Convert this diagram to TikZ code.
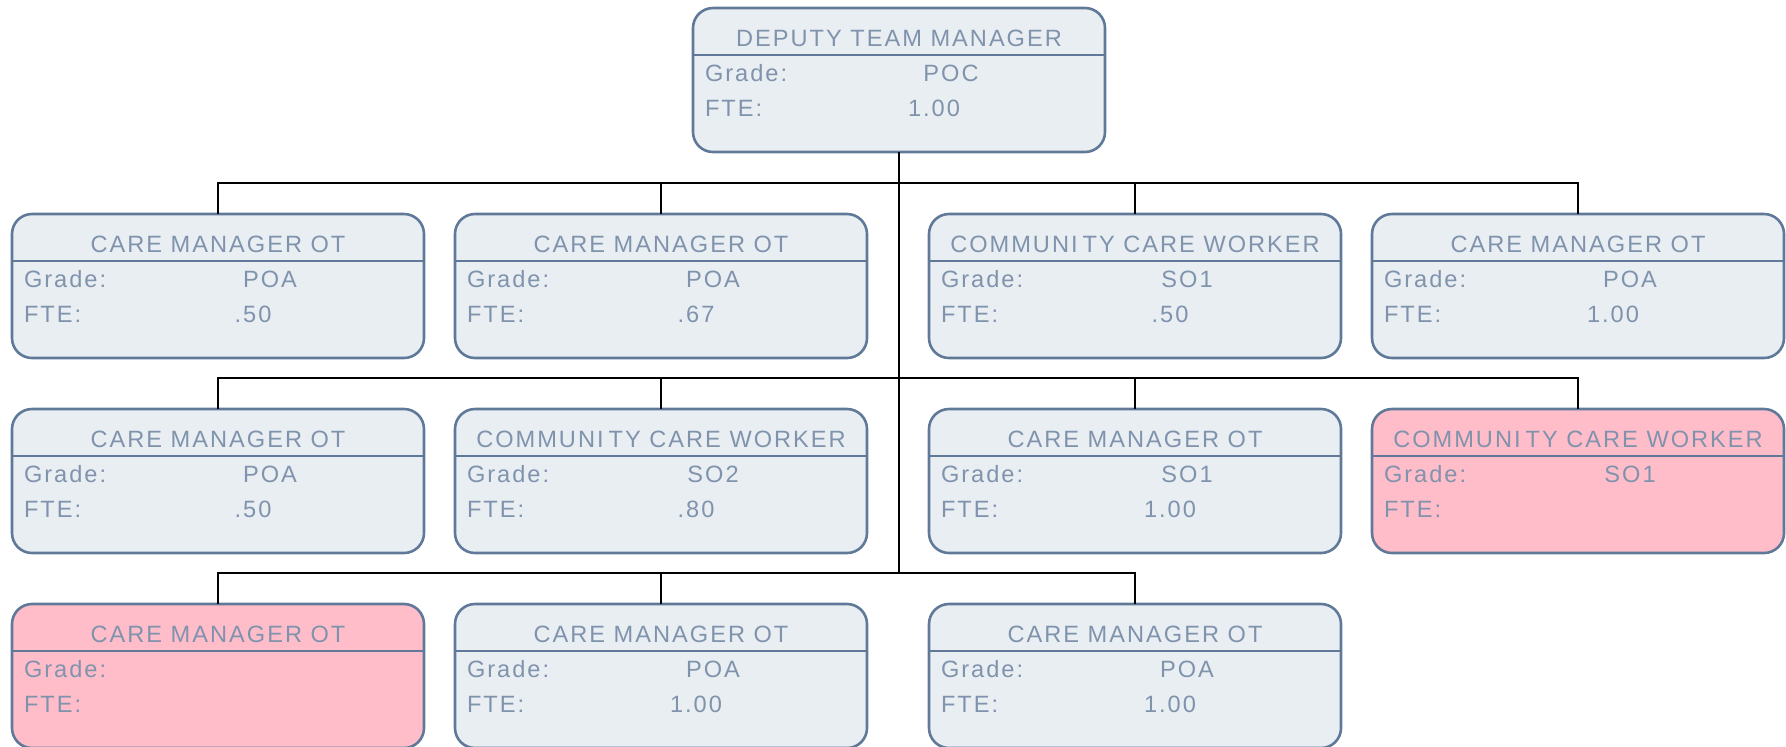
\documentclass[tikz,border=0pt]{standalone}
\usepackage{fontspec}
\setmainfont{Liberation Sans}[LetterSpace=8.5]
\usetikzlibrary{positioning}

\definecolor{postfill}{RGB}{233,238,242}
\definecolor{postline}{RGB}{96,121,153}
\definecolor{posttext}{RGB}{128,147,173}
\definecolor{vacantfill}{RGB}{255,189,202}

% one text line of a post box, no height of its own
\newcommand{\postline}[1]{\hbox to 206pt{\smash{\hbox to 206pt{#1}}}}
% title, grade, fte
\newcommand{\post}[3]{%
  \vbox to 72pt{\offinterlineskip
    \vskip19pt\postline{\hfil#1\hfil}%
    \vskip17.5pt\postline{\hskip6pt\rlap{Grade:}\hskip123pt\makebox[0pt]{#2}\hfil}%
    \vskip17.5pt\postline{\hskip6pt\rlap{FTE:}\hskip114.5pt\makebox[0pt]{#3}\hfil}%
    \vfil}}

\begin{document}
\begin{tikzpicture}[post/.style={draw=postline, fill=postfill, line width=1.3pt, rounded corners=10pt, inner sep=0pt, outer sep=0pt, text=posttext, font=\fontsize{11.8}{14}\selectfont,
    path picture={\draw[postline, line width=1.4pt] ([yshift=-23.5pt]path picture bounding box.north west) -- ([yshift=-23.5pt]path picture bounding box.north east);}},
    vacant/.style={post, fill=vacantfill}, link/.style={draw=black, line width=1.2pt}]
        \useasboundingbox (0,0) rectangle (893pt,-373pt);

        \node(deputy)[post] at (449.5pt,-40pt){\post{DEPUTY TEAM MANAGER}{POC}{1.00}};

        \node(care2)[post, below=31pt of deputy, xshift=-119pt]{\post{CARE MANAGER OT}{POA}{.67}};
        \node(care1)[post, left=15.5pt of care2]{\post{CARE MANAGER OT}{POA}{.50}};
        \node(comm1)[post, right=31pt of care2]{\post{COMMUNI\kern2.5pt TY CARE WORKER}{SO1}{.50}};
        \node(care3)[post, right=15.5pt of comm1]{\post{CARE MANAGER OT}{POA}{1.00}};

        \node(care4)[post, below=25.5pt of care1]{\post{CARE MANAGER OT}{POA}{.50}};
        \node(comm2)[post, below=25.5pt of care2]{\post{COMMUNI\kern2.5pt TY CARE WORKER}{SO2}{.80}};
        \node(care5)[post, below=25.5pt of comm1]{\post{CARE MANAGER OT}{SO1}{1.00}};
        \node(comm3)[vacant, below=25.5pt of care3]{\post{COMMUNI\kern2.5pt TY CARE WORKER}{SO1}{}};

        \node(care6)[vacant, below=25.5pt of care4]{\post{CARE MANAGER OT}{}{}};
        \node(care7)[post, below=25.5pt of comm2]{\post{CARE MANAGER OT}{POA}{1.00}};
        \node(care8)[post, below=25.5pt of care5]{\post{CARE MANAGER OT}{POA}{1.00}};

        \foreach \n in {care1,care2,comm1,care3,care4,comm2,care5,comm3,care6,care7,care8}
            \draw[link] (\n.north) -- ++(0,15.5pt) -| (deputy.south);
    \end{tikzpicture}
\end{document}
